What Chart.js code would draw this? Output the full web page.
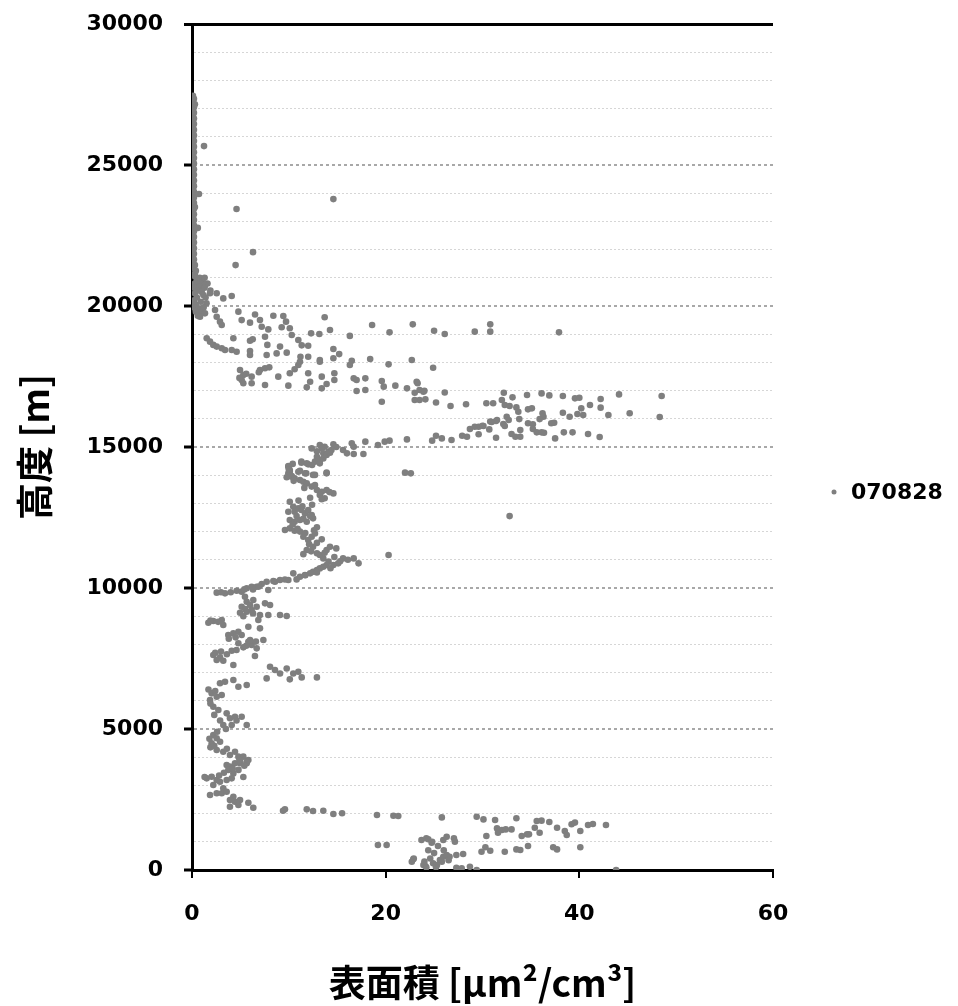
<!DOCTYPE html>
<html>
<head>
<meta charset="utf-8">
<script src="https://cdn.jsdelivr.net/npm/chart.js@4.4.0/dist/chart.umd.min.js"></script>
<style>
  html, body { margin: 0; padding: 0; background: #fff; }
  #wrap { width: 958px; height: 1006px; position: relative; }
</style>
</head>
<body>
<div id="wrap"><canvas id="scatterChart"></canvas></div>
<script>
// surface area [um2/cm3] vs altitude [m], grouped by altitude band
const seriesLabel = '070828';
const xTitle = '表面積 [μm²/cm³]';
const yTitle = '高度 [m]';

const topColumn = [
  [0.1,27450],[0.2,27350],[0.1,27250],[0.3,27150],[0.2,27050],[0.1,26950],[0.2,26850],[0.1,26750],
  [0.2,26650],[0.1,26550],[0.2,26450],[0.1,26350],[0.2,26250],[0.1,26150],[0.2,26050],[0.1,25950],
  [0.2,25850],[0.1,25750],[0.2,25650],[0.1,25550],[0.2,25450],[0.1,25350],[0.2,25250],[0.1,25150],
  [0.2,25050],[0.1,24950],[0.2,24850],[0.1,24750],[0.2,24650],[0.1,24550],[0.2,24450],[0.1,24350],
  [0.2,24250],[0.1,24150],[0.2,24050],[0.1,23950],[0.2,23850],[0.1,23750],[0.2,23650],[0.1,23550],
  [0.2,23450],[0.1,23350],[0.2,23250],[0.1,23150],[0.2,23050],[0.1,22950],[0.2,22850],[0.1,22750],
  [0.2,22650],[0.1,22550],[0.2,22450],[0.1,22350],[0.2,22250],[0.1,22150],[0.2,22050],[0.1,21950],
  [0.2,21850],[0.1,21750],[0.2,21650],[0.1,21550],[0.3,21450],[0.2,21350],[0.4,21250],[0.3,21150]
];

const upperOutliers = [
  [1.24,25670],[0.72,23970],[0.3,23510],[4.6,23440],[14.6,23790],[0.6,22770],[6.3,21910],[4.5,21450]
];

const band19to21k = [
  [0.3,21050],[0.8,21000],[1.3,21000],[0.5,20900],[1.1,20850],[1.6,20800],[0.3,20800],[0.83,20805],
  [1.34,20745],[0.8,20700],[0.2,20650],[1.3,20650],[0.6,20550],[1.0,20500],[0.3,20450],[1.9,20550],
  [1.17,20390],[1.86,20450],[2.55,20450],[3.23,20270],[4.1,20355],[0.5,20300],[1.4,20300],[0.2,20200],
  [0.9,20150],[0.4,20050],[1.5,20100],[0.31,20035],[0.2,19950],[0.7,19900],[0.65,19920],[1.2,19950],
  [0.4,19800],[1.0,19780],[1.34,19740],[2.38,19860],[0.6,19650],[0.83,19620],[2.55,19620],[2.89,19445],
  [3.07,19325],[4.79,19800],[5.13,19500],[5.99,19410],[6.51,19700],[7.02,19500],[7.2,19265],[7.88,19170],
  [8.4,19655],[9.43,19645],[9.71,19445],[9.26,19245],[10.1,19210],[13.7,19600],[18.6,19325],[22.8,19350],
  [25.0,19120],[26.1,19005],[29.2,19090],[30.8,19350],[30.8,19090],[14.25,19150],[12.3,19030],[13.15,19005],
  [10.3,18970],[16.3,18940],[20.4,19065],[37.9,19065]
];

const band17to19k = [
  [1.52,18855],[1.86,18735],[2.2,18620],[2.55,18560],[3.07,18500],[3.41,18440],[4.1,18440],[4.61,18380],
  [5.99,18405],[5.99,18260],[4.27,18855],[5.99,18770],[6.27,18820],[7.54,18910],[7.78,18620],[9.09,18560],
  [9.78,18345],[10.98,18795],[11.33,18605],[12.0,18590],[11.2,18200],[12.0,18200],[13.2,18085],[14.6,18475],
  [14.6,18145],[15.2,18295],[16.5,18060],[18.4,18120],[20.3,17930],[22.7,18085],[24.9,17810],[8.74,18320],
  [7.71,18260],[4.96,17730],[5.3,17555],[5.13,17375],[5.3,17260],[6.16,17495],[6.16,17260],[7.02,17730],
  [7.54,17790],[7.98,17825],[8.91,17495],[7.54,17200],[9.95,17175],[10.1,17615],[10.6,17755],[10.98,17910],
  [11.15,18025],[12.0,17615],[12.2,17315],[11.85,17115],[13.2,18025],[13.4,17495],[13.4,17080],[13.9,17235],
  [14.7,17615],[14.7,17375],[16.3,17910],[16.7,17435],[17.0,17375],[17.0,16985],[17.9,17435],[17.9,17020],
  [19.6,17340],[19.8,17140],[21.0,17175],[22.2,17080],[23.3,17260],[23.5,17020],[23.9,16960],[23.2,17310],
  [23.0,16925],[24.0,16995],[4.9,17450],[5.6,17600],[6.9,17650]
];

const band15to17k = [
  [19.6,16605],[23.5,16665],[24.1,16690],[25.2,16580],[26.1,16935],[26.7,16455],[28.3,16515],[30.4,16550],
  [31.1,16550],[23.0,16665],[32.2,16925],[32.0,16665],[32.3,16490],[32.8,16455],[33.1,16760],[33.5,16405],
  [33.7,16250],[34.6,16845],[34.7,16335],[35.1,16370],[36.1,16900],[36.9,16830],[38.3,16810],[36.2,16195],
  [36.3,16075],[38.3,16215],[39.0,16075],[39.55,16725],[40.0,16745],[39.8,16170],[40.2,16370],[40.4,16135],
  [41.1,16490],[42.2,16700],[42.2,16395],[43.0,16135],[44.1,16865],[45.2,16195],[48.5,16810],[48.3,16065],
  [13.2,15070],[13.7,15010],[14.6,15095],[16.5,15130],[16.7,15010],[17.9,15190],[19.2,15070],[19.9,15190],
  [20.4,15225],[22.2,15270],[24.8,15225],[25.2,15400],[25.8,15305],[26.8,15250],[27.9,15400],[28.4,15365],
  [28.7,15640],[29.6,15720],[30.1,15745],[29.6,15450],[30.8,15900],[31.5,15960],[31.4,15330],[29.2,15720],
  [30.0,15755],[30.7,15625],[30.95,15885],[31.4,15920],[32.15,15815],[32.5,16075],[32.7,15960],[32.3,15745],
  [33.0,15460],[33.4,15365],[33.9,15365],[33.9,15600],[33.8,15990],[34.7,15840],[35.2,15805],[35.2,15640],
  [35.6,15520],[36.1,15520],[36.35,15505],[35.9,15990],[37.1,15840],[37.4,15860],[37.5,15305],[38.4,15520],
  [39.3,15520],[40.9,15460],[42.1,15355]
];

const band10to15k = [
  [12.36,14950],[15.6,14895],[16.0,14775],[16.7,14750],[17.7,14750],[12.9,14850],[13.4,14950],[14.9,15000],
  [9.95,14325],[10.1,14125],[10.3,13945],[10.98,14125],[11.3,14445],[11.67,14065],[12.0,14385],[12.7,14480],
  [12.7,14010],[12.9,14655],[13.2,14540],[13.56,14775],[13.9,14065],[14.1,14835],[14.4,14895],[22.0,14090],
  [22.6,14065],[11.3,14480],[11.85,14420],[12.4,14360],[13.05,14540],[13.2,14420],[13.56,14595],[13.9,14715],
  [14.25,14795],[12.5,14010],[13.9,14090],[9.95,14300],[10.1,14185],[9.95,14065],[10.3,13970],[9.78,13925],
  [10.6,13890],[11.15,13830],[11.5,13770],[11.85,13710],[12.36,13595],[12.7,13650],[12.9,13475],[13.4,13415],
  [13.9,13475],[14.6,13355],[13.7,13180],[13.2,13300],[11.15,14160],[11.8,14065],[10.1,13060],[10.46,12880],
  [9.95,12705],[10.6,12705],[10.98,12825],[11.3,12765],[11.67,12645],[12.0,12765],[12.36,12590],[12.5,12470],
  [10.1,12410],[10.6,12350],[11.15,12410],[11.85,12350],[12.9,12150],[9.6,12055],[10.1,12115],[10.6,12030],
  [11.15,12000],[11.5,11820],[12.0,11700],[12.36,11820],[12.7,11935],[13.4,11725],[11.85,11350],[12.5,11465],
  [12.9,11230],[13.2,11170],[13.9,11350],[14.25,11465],[14.9,11405],[13.56,11050],[14.1,10935],[14.6,10815],
  [15.1,10875],[15.6,11050],[16.7,11050],[17.2,10875],[10.46,10520],[11.15,10400],[11.67,10460],[12.2,10520],
  [12.5,10575],[12.9,10640],[13.2,10695],[13.56,10755],[13.9,10815],[10.8,10305],[9.09,10285],[9.95,10285],
  [8.57,10220],[7.71,10220],[7.2,10140],[20.3,11170],[32.8,12550],
  [11.5,11200],[12.3,11300],[13.7,11250],[12.1,11550],[12.9,11600],[11.7,11950],[10.9,12100],[12.6,12050],
  [10.4,12250],[11.5,12450],[12.2,12550],[10.8,12550],[11.4,12900],[12.4,12950],[11.0,13100],[12.2,13200],
  [13.4,13150],[14.2,13400],[11.6,13550],[10.5,13800],[10.0,14200],[10.4,14400],[8.4,10250],[9.6,10300],
  [11.7,10450],[12.9,10550],[14.3,10700],[15.3,10950],[16.1,11000],[14.7,11100]
];

const band4to10k = [
  [7.88,9930],[6.16,10045],[5.65,9990],[6.68,10045],[2.55,9835],[3.41,9810],[4.61,9905],[5.13,9870],
  [5.47,9690],[5.65,9515],[5.99,9395],[6.33,9575],[5.13,9335],[5.65,9160],[6.16,9220],[6.68,9335],
  [7.02,9040],[7.54,9455],[8.06,9395],[6.85,8865],[7.88,9040],[9.09,9040],[9.78,9005],[4.96,9125],
  [1.69,8770],[2.2,8830],[3.07,8865],[3.23,8690],[3.75,8335],[4.27,8390],[4.79,8450],[5.13,8335],
  [5.82,8625],[7.02,8570],[7.37,8155],[4.79,8040],[5.3,7895],[5.82,8095],[6.16,7980],[6.68,7860],
  [6.5,7590],[2.2,7625],[2.55,7445],[2.89,7540],[3.23,7420],[4.1,7775],[4.27,7270],[8.06,7210],
  [8.57,7090],[9.09,6970],[9.78,7145],[10.46,6970],[10.98,7030],[11.33,6830],[12.9,6830],[7.71,6795],
  [10.1,6760],[2.89,6620],[3.41,6675],[4.27,6735],[4.79,6500],[5.65,6560],[2.03,6265],[2.55,6145],
  [3.07,6205],[1.86,6030],[2.2,5790],[2.72,5675],[3.58,5555],[3.92,5380],[4.44,5435],[5.13,5435],
  [4.1,5140],[5.65,5140],[3.23,5140],[2.2,4785],[2.55,4670],[2.03,4490],[2.55,4255],[3.23,4195],
  [3.92,4080],[4.44,4195],[4.79,4020],[5.3,4020],[5.82,3900],
  [1.7,6400],[2.4,6350],[1.9,5900],[2.3,5500],[2.9,5300],[3.5,5000],[4.6,5300],[2.6,4900],
  [1.8,4650],[2.9,4550],[1.9,4350],[2.3,4400],[3.6,4300],[2.4,7700],[3.0,7750],[3.6,7650],
  [4.6,7800],[5.6,7950],[6.0,8150],[6.6,8100],[3.8,8200],[4.5,8250],[2.7,8800],[1.9,8850],
  [3.0,9850],[4.0,9850],[5.4,9950],[6.3,9950],[6.9,10050],[5.5,9250],[6.3,9100],[5.3,9000]
];

const band0to4k = [
  [3.58,3725],[3.92,3665],[4.96,3785],[5.65,3785],[4.44,3785],[4.96,3840],[5.65,3840],[3.75,3545],
  [4.27,3425],[1.52,3250],[2.03,3305],[2.55,3190],[2.2,3015],[2.89,3130],[3.58,3190],[4.1,3250],
  [3.23,2895],[1.86,2660],[2.55,2720],[3.07,2720],[3.58,2775],[4.27,2600],[3.92,2480],[4.44,2420],
  [4.96,2480],[3.92,2245],[4.79,2305],[5.82,2385],[6.33,2210],[9.6,2150],[11.85,2150],[12.5,2090],
  [13.56,2100],[14.6,1985],[15.5,2010],[19.1,1950],[20.8,1925],[21.3,1915],[19.2,885],[20.1,885],
  [22.85,380],[23.7,1065],[24.2,1125],[24.1,140],[25.8,1865],[29.4,1890],[30.1,1795],[31.3,1775],
  [33.5,1835],[35.6,1740],[36.1,1750],[36.9,1700],[37.7,1500],[38.5,1385],[38.7,1240],[39.2,1620],
  [39.55,1680],[40.1,1385],[40.9,1595],[41.4,1630],[42.75,1595],[31.5,1475],[32.0,1420],[32.4,1440],
  [33.0,1440],[31.6,1320],[34.05,1205],[34.6,1265],[34.8,1265],[35.4,1500],[35.9,1320],[37.3,805],
  [37.7,730],[40.1,805],[24.4,1090],[24.75,970],[25.4,850],[25.95,1065],[26.3,1180],[27.05,1125],
  [27.15,1005],[30.4,1205],[30.3,805],[29.9,645],[30.8,680],[32.3,645],[33.5,730],[33.9,710],
  [34.7,850],[22.9,410],[22.7,295],[23.9,175],[24.6,410],[24.9,235],[25.6,355],[25.95,470],
  [26.3,530],[26.6,470],[25.8,295],[25.3,175],[24.2,95],[27.3,530],[28.0,565],[27.3,80],
  [27.85,60],[28.7,115],[29.4,0],[43.8,0],
  [4.9,3900],[5.4,3700],[4.2,3600],[3.3,3450],[2.8,3350],[1.3,3300],[4.8,3550],[5.3,3300],
  [9.4,2100],[24.4,700],[25.0,600],[24.8,1000],[26.0,700],[24.0,300],[25.2,100],[26.5,350]
];

const allPoints = [].concat(topColumn, upperOutliers, band19to21k, band17to19k,
  band15to17k, band10to15k, band4to10k, band0to4k).map(p => ({ x: p[0], y: p[1] }));

const markerColor = '#7f7f7f';
const yMax = 30000;

// legend drawn by hand at the right, like the original
const sideLegend = {
  id: 'sideLegend',
  afterDraw(chart) {
    const ctx = chart.ctx;
    ctx.save();
    ctx.fillStyle = markerColor;
    ctx.beginPath();
    ctx.arc(834, 492, 2.5, 0, Math.PI * 2);
    ctx.fill();
    ctx.fillStyle = '#000';
    ctx.font = 'bold 22px "DejaVu Sans"';
    ctx.textBaseline = 'middle';
    ctx.fillText(seriesLabel, 851, 493);
    ctx.restore();
  }
};

const isMajor = c => c.tick && c.tick.value % 5000 === 0;

const ctx = document.getElementById('scatterChart').getContext('2d');
new Chart(ctx, {
  type: 'scatter',
  data: {
    datasets: [{
      label: seriesLabel,
      data: allPoints,
      backgroundColor: markerColor,
      borderWidth: 0,
      pointRadius: 3.3,
      pointHoverRadius: 3.3
    }]
  },
  options: {
    responsive: true,
    maintainAspectRatio: false,
    animation: false,
    layout: { padding: { top: 24, right: 185, left: 0, bottom: 0 } },
    plugins: {
      legend: { display: false },
      tooltip: { enabled: false }
    },
    scales: {
      x: {
        type: 'linear',
        position: 'bottom',
        min: 0,
        max: 60,
        ticks: {
          stepSize: 20,
          padding: 23,
          color: '#000',
          font: { family: 'DejaVu Sans', size: 22, weight: 'bold' }
        },
        grid: { drawOnChartArea: false, drawTicks: true, tickLength: 8, color: '#000', lineWidth: 2 },
        border: { color: '#000', width: 3 },
        title: {
          display: true,
          text: xTitle,
          color: '#000',
          padding: { top: 0, bottom: 1 },
          font: { family: 'Noto Sans CJK JP', size: 37, weight: 'bold' }
        },
        afterFit(scale) {
          scale.height = 136;
          scale.paddingLeft = 0;
          scale.paddingRight = 0;
        }
      },
      y: {
        type: 'linear',
        min: 0,
        max: yMax,
        ticks: {
          stepSize: 1000,
          autoSkip: false,
          padding: 21,
          color: '#000',
          font: { family: 'DejaVu Sans', size: 22, weight: 'bold' },
          callback: v => (v % 5000 === 0 ? String(v) : '')
        },
        grid: {
          drawTicks: true,
          tickLength: 8,
          color: c => {
            const v = c.tick ? c.tick.value : 0;
            if (v === yMax) return '#000';
            if (v === 0) return 'rgba(0,0,0,0)';
            return v % 5000 === 0 ? '#a8a8a8' : '#d6d6d6';
          },
          lineWidth: c => {
            if (c.tick && c.tick.value === yMax) return 3;
            return isMajor(c) ? 2 : 1;
          },
          tickColor: c => (isMajor(c) ? '#000' : 'rgba(0,0,0,0)'),
          tickWidth: 3
        },
        border: {
          color: '#000',
          width: 3,
          dash: c => {
            if (c.tick && c.tick.value === yMax) return [];
            return isMajor(c) ? [3, 3] : [2, 2];
          }
        },
        title: {
          display: true,
          text: yTitle,
          color: '#000',
          padding: { top: 13, bottom: 0 },
          font: { family: 'Noto Sans CJK JP', size: 37, weight: 'bold' }
        },
        afterFit(scale) {
          scale.width = 192;
          scale.paddingTop = 0;
          scale.paddingBottom = 0;
        }
      }
    }
  },
  plugins: [sideLegend]
});
</script>
</body>
</html>
